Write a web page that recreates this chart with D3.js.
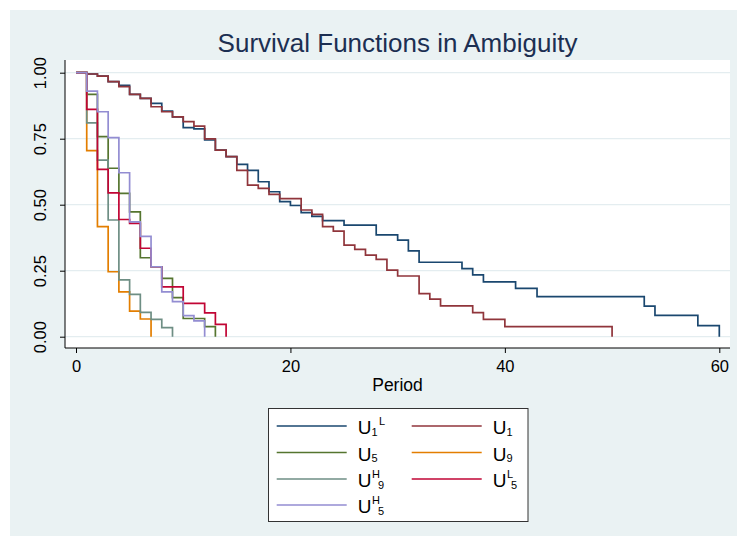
<!DOCTYPE html>
<html><head><meta charset="utf-8">
<script src="https://cdn.jsdelivr.net/npm/d3@7"></script>
<style>body{margin:0;background:#fff}svg{display:block}</style>
</head><body>
<svg id="chart" width="737" height="542"></svg>
<script>
// ---- data ----
const xTicks = [0, 20, 40, 60];
const yTicks = [0, 0.25, 0.5, 0.75, 1];
const yTickLabels = ["0.00", "0.25", "0.50", "0.75", "1.00"];

const u1LTime = [0,1,2,3,4,5,6,7,8,9,10,11,12,13,14,15,16,17,18,19,20,21,22,23,25,28,30,31,32,36,37,38,41,43,53,54,58,60];
const u1LSurv = [1,0.995,0.987,0.966,0.952,0.918,0.903,0.884,0.855,0.833,0.792,0.787,0.745,0.707,0.682,0.653,0.630,0.587,0.549,0.512,0.497,0.470,0.456,0.440,0.423,0.386,0.366,0.325,0.282,0.258,0.234,0.208,0.183,0.152,0.116,0.081,0.042,0];

const u1Time = [0,1,2,3,4,5,6,7,8,9,10,11,12,13,14,15,16,17,18,19,21,22,23,24,25,26,27,28,29,30,32,33,34,37,38,40,50];
const u1Surv = [1,0.995,0.987,0.966,0.947,0.918,0.903,0.871,0.852,0.833,0.815,0.798,0.749,0.707,0.682,0.630,0.574,0.562,0.539,0.523,0.480,0.463,0.417,0.400,0.347,0.331,0.309,0.293,0.252,0.230,0.163,0.142,0.117,0.091,0.066,0.038,0];

const u5Time = [0,1,2,3,4,5,6,7,8,9,10,12,13];
const u5Surv = [1,0.918,0.758,0.638,0.543,0.473,0.299,0.265,0.221,0.148,0.069,0.038,0];

const u9Time = [0,1,2,3,4,5,6,7];
const u9Surv = [1,0.705,0.417,0.246,0.170,0.097,0.067,0];

const uH9Time = [0,1,2,3,4,5,6,7,8,9];
const uH9Surv = [1,0.810,0.669,0.442,0.215,0.160,0.092,0.066,0.034,0];

const uL5Time = [0,1,2,3,4,5,6,7,8,10,12,13,14];
const uL5Surv = [1,0.861,0.634,0.545,0.444,0.429,0.335,0.265,0.189,0.126,0.090,0.047,0];

const uH5Time = [0,1,2,3,4,5,6,7,8,9,10,11,12];
const uH5Surv = [1,0.930,0.852,0.754,0.621,0.435,0.380,0.265,0.170,0.133,0.080,0.060,0];

// legend labels: base, subscript, superscript, order ("sub-sup" or "sup-sub")
const seriesKeys = ["U1L", "U1", "U5", "U9", "UH9", "UL5", "UH5"];
const seriesSub = ["1", "1", "5", "9", "9", "5", "5"];
const seriesSup = ["L", "", "", "", "H", "L", "H"];
const seriesOrder = ["subsup", "sub", "sub", "sub", "supsub", "supsub", "supsub"];

const titleText = "Survival Functions in Ambiguity";
const xTitle = "Period";

// ---- styles ----
const colors = {
  U1L: "#1a476f", U1: "#90353b", U5: "#55752f", U9: "#e37e00",
  UH9: "#6e8e84", UL5: "#c10534", UH5: "#938dd2"
};

const series = [
  {key: "U1L", t: u1LTime, s: u1LSurv},
  {key: "U1",  t: u1Time,  s: u1Surv},
  {key: "U5",  t: u5Time,  s: u5Surv},
  {key: "U9",  t: u9Time,  s: u9Surv},
  {key: "UH9", t: uH9Time, s: uH9Surv},
  {key: "UL5", t: uL5Time, s: uL5Surv},
  {key: "UH5", t: uH5Time, s: uH5Surv}
];

const svg = d3.select("#chart");
const FONT = "'Liberation Sans', Arial, Helvetica, sans-serif";

// graph region
svg.append("rect").attr("x", 10).attr("y", 10).attr("width", 727).attr("height", 526)
  .attr("fill", "#eaf2f3");

// plot region
const plot = {left: 65, right: 730, top: 60, bottom: 348};
svg.append("rect").attr("x", plot.left).attr("y", plot.top)
  .attr("width", plot.right - plot.left).attr("height", plot.bottom - plot.top)
  .attr("fill", "#ffffff");

const x = d3.scaleLinear().domain([0, 60]).range([76, 719.3]);
const y = d3.scaleLinear().domain([0, 1]).range([336.7, 72.7]);

// gridlines
svg.append("g").selectAll("line").data(yTicks).join("line")
  .attr("x1", plot.left).attr("x2", plot.right)
  .attr("y1", d => y(d)).attr("y2", d => y(d))
  .attr("stroke", "#e4edf0").attr("stroke-width", 1.2);

// axes
const yAxis = d3.axisLeft(y).tickValues(yTicks).tickSize(5).tickFormat((d, i) => yTickLabels[i]);
const gy = svg.append("g").attr("transform", `translate(${plot.left},0)`).call(yAxis);
gy.select(".domain").attr("d", `M0,${plot.top}V${plot.bottom}`).attr("stroke", "#000");
gy.selectAll(".tick line").attr("stroke", "#000");
gy.selectAll(".tick text")
  .attr("transform", "rotate(-90)")
  .attr("x", 0).attr("y", 0).attr("dy", 0)
  .attr("text-anchor", "middle")
  .attr("font-family", FONT).attr("font-size", 16.5).attr("fill", "#000")
  .each(function(d) {
    d3.select(this).attr("transform", `translate(-19,0) rotate(-90)`);
  });

const xAxis = d3.axisBottom(x).tickValues(xTicks).tickSize(5).tickFormat(d3.format("d"));
const gx = svg.append("g").attr("transform", `translate(0,${plot.bottom})`).call(xAxis);
gx.select(".domain").attr("d", `M${plot.left},0H${plot.right}`).attr("stroke", "#000");
gx.selectAll(".tick line").attr("stroke", "#000");
gx.selectAll(".tick text")
  .attr("y", 24).attr("dy", 0)
  .attr("font-family", FONT).attr("font-size", 16.5).attr("fill", "#000");

// lines
const line = d3.line().curve(d3.curveStepAfter)
  .x(d => x(d[0])).y(d => y(d[1]));
svg.append("g").selectAll("path").data(series).join("path")
  .attr("d", d => line(d.t.map((t, i) => [t, d.s[i]])))
  .attr("fill", "none")
  .attr("stroke", d => colors[d.key])
  .attr("stroke-width", 1.7)
  .attr("stroke-linejoin", "miter");

// title
svg.append("text").attr("x", 397.5).attr("y", 52).attr("text-anchor", "middle")
  .attr("font-family", FONT).attr("font-size", 26).attr("fill", "#1c2f52")
  .text(titleText);

// x title
svg.append("text").attr("x", 397.5).attr("y", 391).attr("text-anchor", "middle")
  .attr("font-family", FONT).attr("font-size", 17.5).attr("fill", "#000")
  .text(xTitle);

// legend
const lg = svg.append("g");
lg.append("rect").attr("x", 268.5).attr("y", 408.5).attr("width", 259.5).attr("height", 113)
  .attr("fill", "#fff").attr("stroke", "#333").attr("stroke-width", 1);
const colX = [276.7, 411.7];
const rowY = [426, 452.5, 479, 505];
seriesKeys.forEach((k, i) => {
  const c = i % 2, r = Math.floor(i / 2);
  const lx = colX[c], ly = rowY[r];
  lg.append("line").attr("x1", lx).attr("x2", lx + 70).attr("y1", ly).attr("y2", ly)
    .attr("stroke", colors[k]).attr("stroke-width", 1.7);
  const t = lg.append("text").attr("x", lx + 81).attr("y", ly + 8)
    .attr("font-family", FONT).attr("font-size", 19).attr("fill", "#000");
  t.append("tspan").text("U");
  if (seriesOrder[i] === "subsup") {
    t.append("tspan").attr("font-size", 11).attr("dy", 1.5).text(seriesSub[i]);
    t.append("tspan").attr("font-size", 11).attr("dx", 1.5).attr("dy", -10.5).text(seriesSup[i]);
  } else if (seriesOrder[i] === "sub") {
    t.append("tspan").attr("font-size", 11).attr("dy", 1.5).text(seriesSub[i]);
  } else {
    t.append("tspan").attr("font-size", 11).attr("dx", 0.5).attr("dy", -9.5).text(seriesSup[i]);
    t.append("tspan").attr("font-size", 11).attr("dx", -2).attr("dy", 11).text(seriesSub[i]);
  }
});
</script>
</body></html>
